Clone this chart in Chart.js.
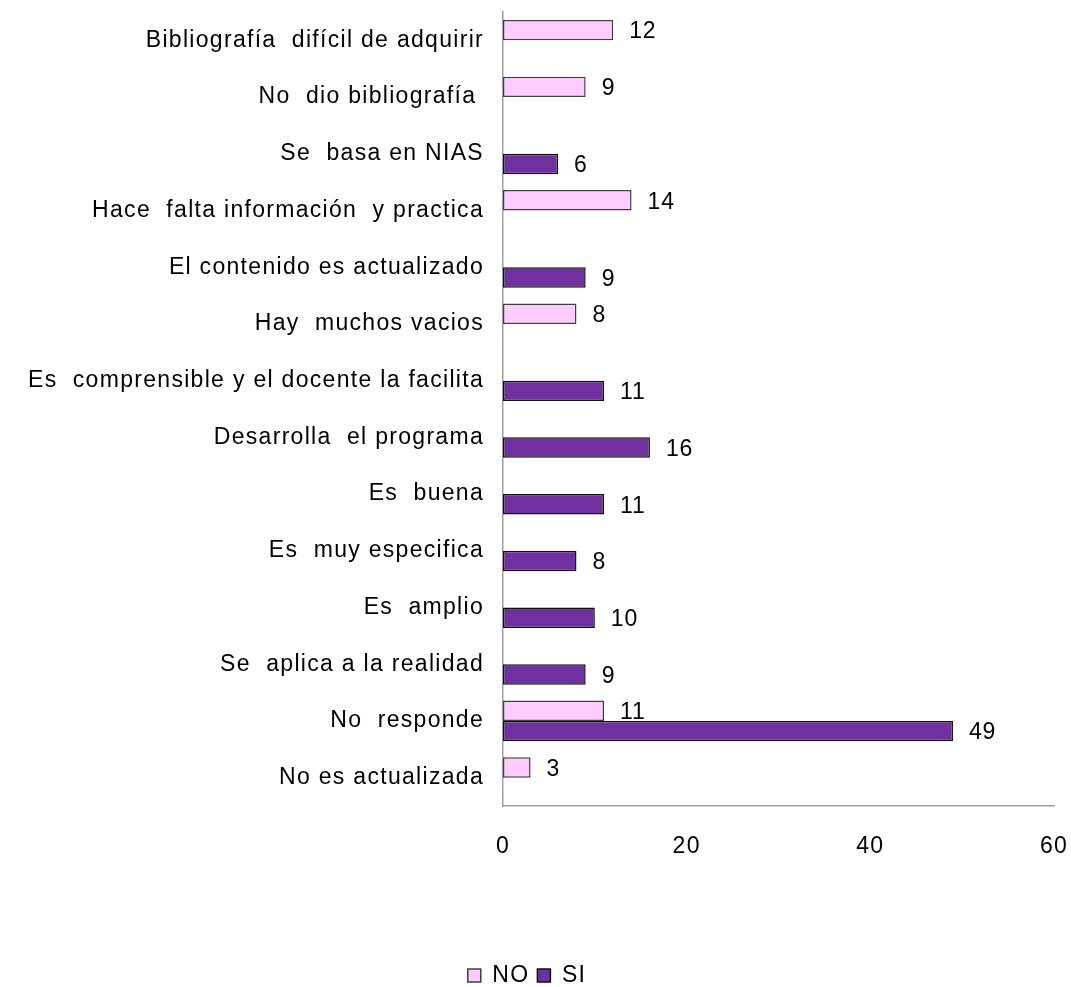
<!DOCTYPE html>
<html lang="es">
<head>
<meta charset="utf-8">
<title>Bibliografía</title>
<script src="https://cdn.jsdelivr.net/npm/chart.js@4/dist/chart.umd.min.js"></script>
<style>
  html, body { margin: 0; padding: 0; background: #fff; }
  #wrap { width: 1071px; height: 987px; position: relative; }
</style>
</head>
<body>
<div id="wrap"><canvas id="grafico"></canvas></div>
<script>
const categorias = [
  "Bibliografía  difícil de adquirir",
  "No  dio bibliografía ",
  "Se  basa en NIAS",
  "Hace  falta información  y practica",
  "El contenido es actualizado",
  "Hay  muchos vacios",
  "Es  comprensible y el docente la facilita",
  "Desarrolla  el programa",
  "Es  buena",
  "Es  muy especifica",
  "Es  amplio",
  "Se  aplica a la realidad",
  "No  responde",
  "No es actualizada",
];
const valoresNo = [12, 9, null, 14, null, 8, null, null, null, null, null, null, 11, 3];
const valoresSi = [null, null, 6, null, 9, null, 11, 16, 11, 8, 10, 9, 49, null];
const ticksX = [0, 20, 40, 60];

const fuente = "'Liberation Sans', Arial, sans-serif";
const tamLetra = 23;

// texto algo más espaciado, como en el gráfico original de Excel
const espaciado = {
  id: "espaciado",
  beforeUpdate(chart) {
    chart.ctx.letterSpacing = "1.3px";
  },
  beforeDraw(chart) {
    chart.ctx.letterSpacing = "1.3px";
  },
};

// etiquetas con el valor a la derecha de cada barra
const etiquetasValor = {
  id: "etiquetasValor",
  afterDatasetsDraw(chart) {
    const ctx = chart.ctx;
    ctx.save();
    ctx.font = tamLetra + "px " + fuente;
    ctx.letterSpacing = "0.8px";
    ctx.fillStyle = "#000";
    ctx.textAlign = "left";
    ctx.textBaseline = "middle";
    chart.data.datasets.forEach((ds, i) => {
      const meta = chart.getDatasetMeta(i);
      meta.data.forEach((bar, j) => {
        const v = ds.data[j];
        if (v === null || v === undefined) return;
        ctx.fillText(String(v), bar.x + 16, bar.y + 2);
      });
    });
    ctx.restore();
  },
};

const ctx = document.getElementById("grafico").getContext("2d");
new Chart(ctx, {
  type: "bar",
  data: {
    labels: categorias,
    datasets: [
      {
        label: "NO",
        data: valoresNo,
        backgroundColor: "#ffccff",
        borderColor: "#404040",
        borderWidth: 1.5,
        borderSkipped: false,
        categoryPercentage: 0.72,
        barPercentage: 1,
      },
      {
        label: "SI",
        data: valoresSi,
        backgroundColor: "#7030a0",
        borderColor: "#111",
        borderWidth: 1.5,
        borderSkipped: false,
        categoryPercentage: 0.72,
        barPercentage: 1,
      },
    ],
  },
  options: {
    indexAxis: "y",
    responsive: true,
    maintainAspectRatio: false,
    animation: false,
    layout: { padding: { top: 12, right: 17, bottom: -10, left: 0 } },
    scales: {
      x: {
        min: 0,
        max: 60,
        afterBuildTicks: (scale) => {
          scale.ticks = ticksX.map((v) => ({ value: v }));
        },
        afterFit: (scale) => {
          scale.height = 150;
          scale.paddingLeft = 0;
          scale.paddingRight = 0;
        },
        grid: { display: false, drawTicks: false },
        border: { display: true, color: "#a0a0a0", width: 1.5 },
        ticks: {
          color: "#000",
          padding: 27,
          font: { size: tamLetra, family: fuente },
        },
      },
      y: {
        afterFit: (scale) => {
          scale.width = 503;
          scale.paddingTop = 0;
          scale.paddingBottom = 0;
        },
        grid: { display: false, drawTicks: false },
        border: { display: true, color: "#a0a0a0", width: 1.5 },
        ticks: {
          color: "#000",
          padding: 19,
          autoSkip: false,
          font: { size: tamLetra, family: fuente },
        },
      },
    },
    plugins: {
      legend: {
        position: "bottom",
        labels: {
          color: "#000",
          boxWidth: 13,
          boxHeight: 13,
          padding: 8,
          font: { size: tamLetra, family: fuente },
        },
      },
      tooltip: { enabled: false },
    },
  },
  plugins: [espaciado, etiquetasValor],
});
</script>
</body>
</html>
